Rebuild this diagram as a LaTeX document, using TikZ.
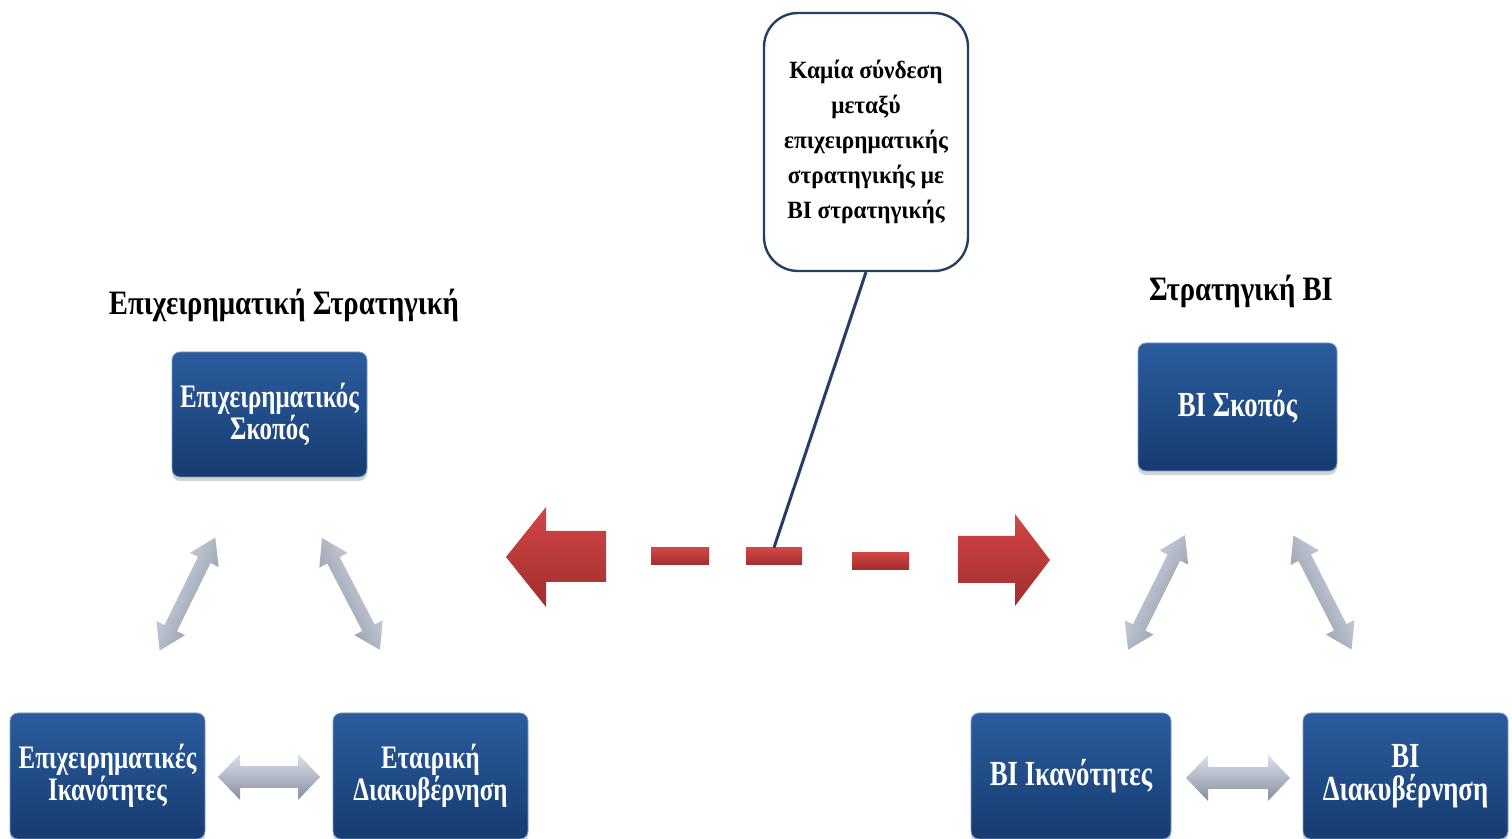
\documentclass[tikz,border=0pt]{standalone}
\usepackage{fontspec}
\setmainfont{Liberation Serif}
\newfontfamily\boxfam[FakeStretch=0.76]{Liberation Serif}
\newfontfamily\titlefam[FakeStretch=0.84]{Liberation Serif}
\newfontfamily\notefam[FakeStretch=0.94]{Liberation Serif}
\usetikzlibrary{shadows}

\definecolor{boxtop}{HTML}{2B5C9E}
\definecolor{boxbot}{HTML}{163C70}
\definecolor{redtop}{HTML}{D24745}
\definecolor{redbot}{HTML}{A02E2D}
\definecolor{greylt}{HTML}{DDE1E9}
\definecolor{greymid}{HTML}{AEB5C3}
\definecolor{greydk}{HTML}{858EA0}
\definecolor{noteline}{HTML}{243F62}

% two-headed grey arrow: centre x, centre y, angle, half length,
% shaft half width, head half width, head length
\newcommand\twowayarrow[7]{%
  \begin{scope}[shift={(#1,#2)},rotate=#3]
    \shade[greyarrow, shading angle=#3] (-#4,0) -- (-#4+#7,#6) -- (-#4+#7,#5)
      -- (#4-#7,#5) -- (#4-#7,#6) -- (#4,0) -- (#4-#7,-#6) -- (#4-#7,-#5)
      -- (-#4+#7,-#5) -- (-#4+#7,-#6) -- cycle;
  \end{scope}}

\tikzset{
  bluebox/.style={rectangle, rounded corners=4pt, top color=boxtop,
    bottom color=boxbot, draw=boxtop!60!white, line width=0.4pt,
    text=white, align=center, inner sep=0pt,
    drop shadow={shadow xshift=0pt, shadow yshift=-2pt, opacity=0.35}},
  boxfont/.style={font=\boxfam\bfseries\fontsize{16.4}{16}\selectfont},
  bigboxfont/.style={font=\boxfam\bfseries\fontsize{17.6}{16.5}\selectfont},
  heading/.style={font=\titlefam\bfseries\fontsize{17.1}{18}\selectfont, text=black},
  greyarrow/.style={top color=greylt, middle color=greymid, bottom color=greydk},
  redpart/.style={top color=redtop, bottom color=redbot},
  dashbar/.style={rectangle, inner sep=0pt, top color=redtop,
    bottom color=redbot, minimum height=8.5pt},
  notebox/.style={rectangle, rounded corners=17pt, draw=noteline,
    line width=1.2pt, fill=white, align=center, inner sep=0pt,
    minimum width=102pt, minimum height=129pt,
    font=\notefam\bfseries\fontsize{12.4}{17.5}\selectfont},
}

\begin{document}
\begin{tikzpicture}[x=0.5pt,y=-0.5pt]
  \useasboundingbox (0,0) rectangle (1512,839);

  % headings
  \node[heading] (lefttitle) at (284,305) {Επιχειρηματική Στρατηγική};
  \node[heading] (righttitle) at (1241,291) {Στρατηγική BI};

  % business strategy boxes
  \node[bluebox, boxfont, minimum width=97.5pt, minimum height=62.5pt]
    (bgoal) at (269.5,414.5) {Επιχειρηματικός\\Σκοπός};
  \node[bluebox, boxfont, minimum width=97.5pt, minimum height=63pt]
    (bcap) at (107.5,776) {Επιχειρηματικές\\Ικανότητες};
  \node[bluebox, boxfont, minimum width=97.5pt, minimum height=63pt]
    (bgov) at (430.5,776) {Εταιρική\\Διακυβέρνηση};

  % BI strategy boxes
  \node[bluebox, bigboxfont, minimum width=99.5pt, minimum height=64pt]
    (bigoal) at (1237.5,407) {BI Σκοπός};
  \node[bluebox, bigboxfont, minimum width=100pt, minimum height=63pt]
    (bicap) at (1071,776) {BI Ικανότητες};
  \node[bluebox, bigboxfont, minimum width=102.5pt, minimum height=63pt]
    (bigov) at (1405.5,776) {BI\\Διακυβέρνηση};

  % grey two-way arrows, left triangle
  \twowayarrow{187.5}{594}{63.8}{63}{7}{16}{25}
  \twowayarrow{351}{594}{-62.6}{63}{7}{16}{25}
  \twowayarrow{269}{777}{0}{51}{11}{23}{22}

  % grey two-way arrows, right triangle
  \twowayarrow{1156.5}{592.5}{63.6}{64}{7}{16}{25}
  \twowayarrow{1322.5}{592.5}{-63}{64}{7}{16}{25}
  \twowayarrow{1238}{778}{0}{52}{11}{23}{22}

  % red dashed two-way arrow
  \shade[redpart] (506,557) -- (546,507) -- (546,531) -- (606,531)
    -- (606,582) -- (546,582) -- (546,607) -- cycle;
  \node[dashbar, minimum width=29pt] (dash1) at (680,556.5) {};
  \node[dashbar, minimum width=28pt] (dash2) at (774,556.5) {};
  \node[dashbar, minimum width=28.5pt] (dash3) at (880.5,561) {};
  \shade[redpart] (1050,560) -- (1015,514) -- (1015,536) -- (958,536)
    -- (958,583) -- (1015,583) -- (1015,606) -- cycle;

  % note with its pointer
  \node[notebox] (note) at (866,142)
    {Καμία σύνδεση\\μεταξύ\\επιχειρηματικής\\στρατηγικής με\\BI στρατηγικής};
  \draw[noteline, line width=1.5pt] (note.south) -- (dash2.north);
\end{tikzpicture}
\end{document}
